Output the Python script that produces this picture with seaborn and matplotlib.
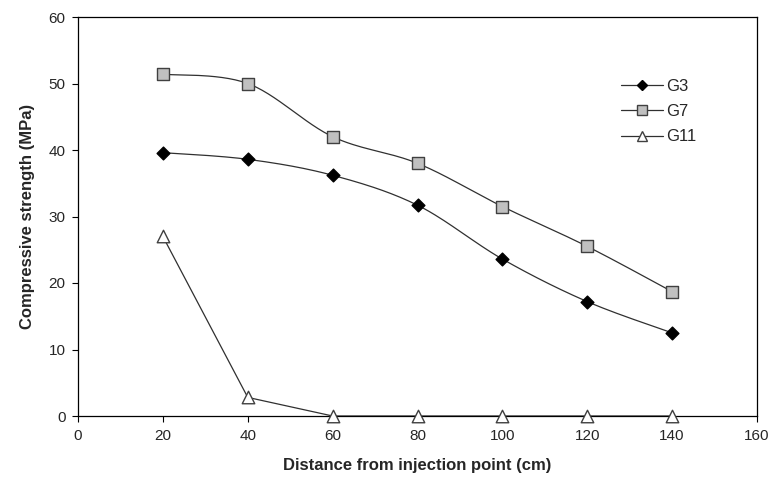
import numpy as np
import pandas as pd
import matplotlib
matplotlib.use("Agg")
import matplotlib.pyplot as plt
from matplotlib.lines import Line2D
import seaborn as sns

distance = [20, 40, 60, 80, 100, 120, 140]
g3 = [39.6, 38.6, 36.2, 31.7, 23.6, 17.2, 12.5]
g7 = [51.4, 50.0, 42.0, 38.0, 31.5, 25.5, 18.7]
g11 = [27.0, 2.8, 0.0, 0.0, 0.0, 0.0, 0.0]
series_names = ["G3", "G7", "G11"]
x_ticks = [0, 20, 40, 60, 80, 100, 120, 140, 160]
y_ticks = [0, 10, 20, 30, 40, 50, 60]


def smooth(x, y, n=30):
    x = np.asarray(x, float)
    y = np.asarray(y, float)
    xs, ys = [], []
    for i in range(len(x) - 1):
        p0 = np.array([x[i], y[i]])
        p3 = np.array([x[i + 1], y[i + 1]])
        pm = np.array([x[i - 1], y[i - 1]]) if i > 0 else p0
        pp = np.array([x[i + 2], y[i + 2]]) if i + 2 < len(x) else p3
        c1 = p0 + (p3 - pm) / 6.0
        c2 = p3 - (pp - p0) / 6.0
        t = np.linspace(0, 1, n)[:, None]
        pts = (1 - t) ** 3 * p0 + 3 * (1 - t) ** 2 * t * c1 + 3 * (1 - t) * t ** 2 * c2 + t ** 3 * p3
        if i > 0:
            pts = pts[1:]
        xs.extend(pts[:, 0])
        ys.extend(pts[:, 1])
    return np.array(xs), np.array(ys)


sns.set_style("white")
plt.rcParams["font.family"] = ["Liberation Sans", "DejaVu Sans"]

fig = plt.figure(figsize=(7.77, 4.82), dpi=100)
ax = fig.add_axes([78 / 777, 66 / 482, (757 - 78) / 777, (416 - 17) / 482])

styles = {
    "G3": dict(marker="D", mfc="black", mec="black", ms=6.5, smooth=True),
    "G7": dict(marker="s", mfc="#c0c0c0", mec="#404040", ms=8, smooth=True),
    "G11": dict(marker="^", mfc="white", mec="#404040", ms=9, smooth=False),
}
data = {"G3": g3, "G7": g7, "G11": g11}

handles = []
for name in series_names:
    st = styles[name]
    y = data[name]
    if st["smooth"]:
        xs, ys = smooth(distance, y)
    else:
        xs, ys = np.array(distance, float), np.array(y, float)
    line_df = pd.DataFrame({"x": xs, "y": ys})
    sns.lineplot(data=line_df, x="x", y="y", ax=ax, color="#303030", lw=0.9,
                 sort=False, estimator=None, zorder=2)
    pt_df = pd.DataFrame({"x": distance, "y": y})
    sns.scatterplot(data=pt_df, x="x", y="y", ax=ax, marker=st["marker"],
                    s=st["ms"] ** 2, color=st["mfc"], edgecolor=st["mec"],
                    linewidth=1.0, zorder=3, clip_on=False)
    handles.append(Line2D([0], [0], color="#303030", lw=0.9, marker=st["marker"],
                          markerfacecolor=st["mfc"], markeredgecolor=st["mec"],
                          markersize=st["ms"] * 0.85, label=name))

ax.set_xlim(0, 160)
ax.set_ylim(0, 60)
ax.set_xticks(x_ticks)
ax.set_yticks(y_ticks)
ax.tick_params(axis="both", direction="out", length=4, width=0.8, color="black",
               labelsize=11, pad=5, bottom=True, left=True)
for sp in ax.spines.values():
    sp.set_visible(True)
    sp.set_color("black")
    sp.set_linewidth(0.9)

ax.set_xlabel("Distance from injection point (cm)", fontsize=12, fontweight="bold", labelpad=11)
ax.set_ylabel("Compressive strength (MPa)", fontsize=12, fontweight="bold", labelpad=10)

leg = ax.legend(handles=handles, loc="upper left", bbox_to_anchor=(0.79, 0.862),
                frameon=False, fontsize=12, handlelength=2.5, handletextpad=0.2,
                labelspacing=0.62, borderaxespad=0)

fig.savefig("out.png", dpi=100)
